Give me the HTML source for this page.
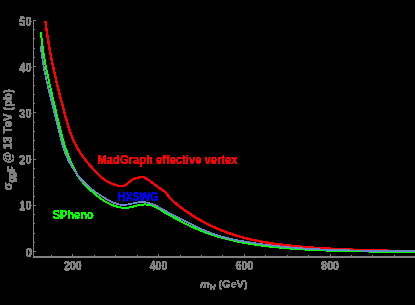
<!DOCTYPE html>
<html><head><meta charset="utf-8"><style>
html,body{margin:0;padding:0;background:#000;}
body{width:415px;height:305px;overflow:hidden;position:relative;}
svg{position:absolute;left:0;top:0;will-change:transform;}
text{font-family:"Liberation Sans",sans-serif;}
</style></head><body>
<svg width="415" height="305" viewBox="0 0 415 305">
<defs>
<filter id="crisp" x="-30%" y="-60%" width="160%" height="220%"><feComponentTransfer><feFuncA type="discrete" tableValues="0 1 1 1"/></feComponentTransfer></filter>
<filter id="crisp2" x="-30%" y="-60%" width="160%" height="220%"><feComponentTransfer><feFuncA type="discrete" tableValues="0 1 1 1"/></feComponentTransfer></filter>
</defs>
<rect width="415" height="305" fill="#000"/>
<g stroke="#808080" stroke-width="1" fill="none" shape-rendering="crispEdges">
<line x1="33.5" y1="20" x2="33.5" y2="257"/>
<line x1="33" y1="257" x2="415" y2="257" stroke-width="2"/>
<line x1="51.36" y1="257" x2="51.36" y2="255.2"/><line x1="72.80" y1="257" x2="72.80" y2="254.0"/><line x1="94.24" y1="257" x2="94.24" y2="255.2"/><line x1="115.68" y1="257" x2="115.68" y2="255.2"/><line x1="137.12" y1="257" x2="137.12" y2="255.2"/><line x1="158.57" y1="257" x2="158.57" y2="254.0"/><line x1="180.01" y1="257" x2="180.01" y2="255.2"/><line x1="201.45" y1="257" x2="201.45" y2="255.2"/><line x1="222.89" y1="257" x2="222.89" y2="255.2"/><line x1="244.33" y1="257" x2="244.33" y2="254.0"/><line x1="265.77" y1="257" x2="265.77" y2="255.2"/><line x1="287.22" y1="257" x2="287.22" y2="255.2"/><line x1="308.66" y1="257" x2="308.66" y2="255.2"/><line x1="330.10" y1="257" x2="330.10" y2="254.0"/><line x1="351.54" y1="257" x2="351.54" y2="255.2"/><line x1="372.98" y1="257" x2="372.98" y2="255.2"/><line x1="394.43" y1="257" x2="394.43" y2="255.2"/><line x1="33" y1="251.50" x2="36.0" y2="251.50"/><line x1="33" y1="242.26" x2="34.8" y2="242.26"/><line x1="33" y1="233.02" x2="34.8" y2="233.02"/><line x1="33" y1="223.78" x2="34.8" y2="223.78"/><line x1="33" y1="214.54" x2="34.8" y2="214.54"/><line x1="33" y1="205.30" x2="36.0" y2="205.30"/><line x1="33" y1="196.06" x2="34.8" y2="196.06"/><line x1="33" y1="186.82" x2="34.8" y2="186.82"/><line x1="33" y1="177.58" x2="34.8" y2="177.58"/><line x1="33" y1="168.34" x2="34.8" y2="168.34"/><line x1="33" y1="159.10" x2="36.0" y2="159.10"/><line x1="33" y1="149.86" x2="34.8" y2="149.86"/><line x1="33" y1="140.62" x2="34.8" y2="140.62"/><line x1="33" y1="131.38" x2="34.8" y2="131.38"/><line x1="33" y1="122.14" x2="34.8" y2="122.14"/><line x1="33" y1="112.90" x2="36.0" y2="112.90"/><line x1="33" y1="103.66" x2="34.8" y2="103.66"/><line x1="33" y1="94.42" x2="34.8" y2="94.42"/><line x1="33" y1="85.18" x2="34.8" y2="85.18"/><line x1="33" y1="75.94" x2="34.8" y2="75.94"/><line x1="33" y1="66.70" x2="36.0" y2="66.70"/><line x1="33" y1="57.46" x2="34.8" y2="57.46"/><line x1="33" y1="48.22" x2="34.8" y2="48.22"/><line x1="33" y1="38.98" x2="34.8" y2="38.98"/><line x1="33" y1="29.74" x2="34.8" y2="29.74"/><line x1="33" y1="20.50" x2="36.0" y2="20.50"/>
</g>
<g fill="#808080" stroke="#808080" stroke-width="0.3" font-size="12.5" font-weight="bold" text-anchor="end" filter="url(#crisp)">
<text x="31.5" y="25.5" textLength="12.2" lengthAdjust="spacingAndGlyphs">50</text>
<text x="31.5" y="71.7" textLength="12.2" lengthAdjust="spacingAndGlyphs">40</text>
<text x="31.5" y="117.9" textLength="12.2" lengthAdjust="spacingAndGlyphs">30</text>
<text x="31.5" y="164.1" textLength="12.2" lengthAdjust="spacingAndGlyphs">20</text>
<text x="31.5" y="210.3" textLength="12.2" lengthAdjust="spacingAndGlyphs">10</text>
<text x="32" y="257" textLength="6.6" lengthAdjust="spacingAndGlyphs">0</text>
</g>
<g fill="#808080" stroke="#808080" stroke-width="0.3" font-size="12.5" font-weight="bold" text-anchor="middle" filter="url(#crisp)">
<text x="72.8" y="270" textLength="17.5" lengthAdjust="spacingAndGlyphs">200</text>
<text x="158.5" y="270" textLength="17.5" lengthAdjust="spacingAndGlyphs">400</text>
<text x="244.3" y="270" textLength="17.5" lengthAdjust="spacingAndGlyphs">600</text>
<text x="330.1" y="270" textLength="17.5" lengthAdjust="spacingAndGlyphs">800</text>
</g>
<g filter="url(#crisp)"><text x="200" y="288" fill="#808080" stroke="#808080" stroke-width="0.2" font-size="11.5" font-weight="bold" textLength="47.5" lengthAdjust="spacingAndGlyphs"><tspan font-style="italic">m</tspan><tspan font-size="8.5" dy="2" font-style="italic">H</tspan><tspan dy="-2"> (GeV)</tspan></text></g>
<g filter="url(#crisp)"><text transform="translate(12.3,190.3) rotate(-90)" fill="#808080" stroke="#808080" stroke-width="0.3" font-size="12.5" font-weight="bold" textLength="101" lengthAdjust="spacingAndGlyphs">σ<tspan font-size="10" dy="2.5">ggF</tspan><tspan dy="-2.5"> @ 13 TeV (pb)</tspan></text></g>
<g fill="none" stroke-linejoin="round" stroke-linecap="butt" shape-rendering="crispEdges">
<path d="M45.49 21.00 L45.58 21.85 L45.68 22.70 L45.78 23.55 L45.88 24.40 L45.98 25.25 L46.08 26.10 L46.19 26.95 L46.30 27.80 L46.41 28.64 L46.52 29.49 L46.63 30.34 L46.75 31.18 L46.86 32.03 L46.98 32.87 L47.10 33.71 L47.23 34.55 L47.35 35.40 L47.47 36.24 L47.60 37.08 L47.73 37.92 L47.86 38.76 L47.99 39.60 L48.13 40.43 L48.26 41.27 L48.40 42.11 L48.54 42.95 L48.68 43.78 L48.82 44.62 L48.96 45.45 L49.11 46.29 L49.26 47.12 L49.40 47.96 L49.55 48.79 L49.70 49.62 L49.86 50.46 L50.01 51.29 L50.16 52.12 L50.32 52.95 L50.48 53.78 L50.64 54.61 L50.80 55.44 L50.96 56.27 L51.12 57.10 L51.29 57.93 L51.45 58.76 L51.62 59.59 L51.79 60.41 L51.96 61.24 L52.13 62.07 L52.30 62.90 L52.48 63.72 L52.65 64.55 L52.83 65.38 L53.00 66.20 L53.18 67.03 L53.36 67.85 L53.54 68.68 L53.72 69.50 L53.91 70.33 L54.09 71.15 L54.28 71.98 L54.46 72.80 L54.65 73.62 L54.84 74.45 L55.03 75.27 L55.22 76.10 L55.41 76.92 L55.60 77.74 L55.79 78.56 L55.98 79.39 L56.18 80.21 L56.37 81.03 L56.57 81.86 L56.77 82.68 L56.97 83.50 L57.17 84.32 L57.37 85.15 L57.57 85.97 L57.77 86.79 L57.97 87.61 L58.17 88.44 L58.38 89.26 L58.58 90.08 L58.79 90.90 L58.99 91.73 L59.20 92.55 L59.41 93.37 L59.61 94.19 L59.82 95.02 L60.03 95.84 L60.24 96.66 L60.45 97.49 L60.66 98.31 L60.88 99.13 L61.09 99.96 L61.30 100.78 L61.51 101.60 L61.73 102.43 L61.94 103.25 L62.16 104.08 L62.37 104.90 L62.59 105.72 L62.80 106.55 L63.02 107.37 L63.24 108.20 L63.46 109.02 L63.67 109.85 L63.89 110.68 L64.11 111.50 L64.33 112.33 L64.55 113.15 L64.77 113.98 L64.99 114.81 L65.22 115.63 L65.44 116.46 L65.67 117.28 L65.90 118.11 L66.13 118.93 L66.36 119.75 L66.59 120.57 L66.83 121.39 L67.07 122.21 L67.31 123.03 L67.56 123.85 L67.81 124.67 L68.06 125.48 L68.31 126.30 L68.57 127.11 L68.83 127.92 L69.09 128.73 L69.36 129.53 L69.64 130.34 L69.91 131.14 L70.19 131.94 L70.48 132.74 L70.77 133.54 L71.07 134.33 L71.37 135.12 L71.67 135.91 L71.98 136.70 L72.30 137.48 L72.62 138.26 L72.95 139.04 L73.28 139.82 L73.62 140.59 L73.97 141.36 L74.32 142.12 L74.68 142.88 L75.04 143.64 L75.42 144.40 L75.80 145.15 L76.18 145.90 L76.57 146.64 L76.98 147.38 L77.38 148.12 L77.80 148.85 L78.22 149.58 L78.66 150.30 L79.10 151.02 L79.55 151.73 L80.00 152.44 L80.46 153.15 L80.93 153.85 L81.41 154.55 L81.89 155.25 L82.38 155.94 L82.88 156.63 L83.38 157.31 L83.89 157.99 L84.41 158.67 L84.93 159.34 L85.45 160.01 L85.98 160.67 L86.52 161.33 L87.06 161.99 L87.60 162.65 L88.15 163.30 L88.70 163.95 L89.26 164.60 L89.82 165.24 L90.38 165.88 L90.95 166.52 L91.52 167.15 L92.09 167.78 L92.67 168.41 L93.25 169.04 L93.83 169.66 L94.41 170.28 L94.99 170.90 L95.58 171.52 L96.17 172.13 L96.76 172.74 L97.35 173.34 L97.95 173.94 L98.55 174.54 L99.16 175.12 L99.77 175.70 L100.39 176.27 L101.02 176.83 L101.65 177.38 L102.30 177.92 L102.95 178.44 L103.62 178.96 L104.30 179.46 L104.98 179.94 L105.68 180.41 L106.39 180.87 L107.12 181.31 L107.85 181.73 L108.59 182.14 L109.35 182.53 L110.11 182.90 L110.88 183.26 L111.66 183.60 L112.45 183.92 L113.25 184.22 L114.05 184.51 L114.87 184.78 L115.69 185.03 L116.51 185.26 L117.34 185.47 L118.18 185.67 L119.03 185.84 L119.87 185.99 L120.72 186.10 L121.56 186.16 L122.38 186.14 L123.18 186.03 L123.95 185.81 L124.69 185.48 L125.40 185.06 L126.09 184.59 L126.77 184.07 L127.44 183.52 L128.11 182.97 L128.77 182.41 L129.43 181.86 L130.10 181.32 L130.77 180.80 L131.46 180.31 L132.17 179.85 L132.89 179.44 L133.64 179.09 L134.42 178.79 L135.22 178.55 L136.04 178.33 L136.88 178.11 L137.72 177.88 L138.57 177.60 L139.42 177.30 L140.27 177.03 L141.09 176.85 L141.90 176.79 L142.68 176.89 L143.44 177.13 L144.19 177.45 L144.92 177.82 L145.65 178.21 L146.37 178.62 L147.08 179.04 L147.79 179.49 L148.50 179.94 L149.20 180.41 L149.90 180.90 L150.59 181.39 L151.28 181.89 L151.97 182.40 L152.65 182.91 L153.33 183.43 L154.02 183.96 L154.70 184.48 L155.38 185.00 L156.06 185.52 L156.75 186.04 L157.43 186.56 L158.12 187.07 L158.80 187.57 L159.49 188.06 L160.19 188.55 L160.88 189.02 L161.57 189.50 L162.25 189.99 L162.93 190.48 L163.58 190.99 L164.22 191.52 L164.84 192.07 L165.44 192.65 L166.03 193.25 L166.60 193.87 L167.16 194.50 L167.72 195.14 L168.27 195.78 L168.82 196.43 L169.38 197.07 L169.94 197.71 L170.51 198.34 L171.09 198.96 L171.68 199.57 L172.28 200.17 L172.89 200.76 L173.51 201.34 L174.14 201.91 L174.77 202.48 L175.41 203.04 L176.06 203.59 L176.72 204.13 L177.37 204.67 L178.04 205.21 L178.70 205.74 L179.37 206.26 L180.05 206.78 L180.72 207.30 L181.40 207.82 L182.08 208.33 L182.77 208.83 L183.45 209.34 L184.14 209.84 L184.83 210.33 L185.52 210.83 L186.22 211.32 L186.92 211.80 L187.62 212.28 L188.32 212.76 L189.03 213.24 L189.74 213.71 L190.45 214.18 L191.16 214.64 L191.87 215.10 L192.59 215.56 L193.31 216.01 L194.03 216.46 L194.75 216.91 L195.48 217.35 L196.21 217.79 L196.94 218.23 L197.67 218.66 L198.40 219.09 L199.14 219.51 L199.87 219.94 L200.61 220.35 L201.36 220.77 L202.10 221.18 L202.85 221.58 L203.59 221.99 L204.34 222.39 L205.09 222.78 L205.85 223.18 L206.60 223.56 L207.36 223.95 L208.12 224.33 L208.88 224.71 L209.64 225.08 L210.40 225.45 L211.17 225.82 L211.94 226.18 L212.70 226.54 L213.47 226.90 L214.25 227.25 L215.02 227.60 L215.80 227.94 L216.57 228.28 L217.35 228.62 L218.13 228.95 L218.91 229.28 L219.69 229.61 L220.48 229.93 L221.26 230.25 L222.05 230.56 L222.84 230.87 L223.63 231.18 L224.42 231.49 L225.21 231.79 L226.00 232.08 L226.80 232.37 L227.59 232.66 L228.39 232.95 L229.19 233.23 L229.99 233.51 L230.79 233.78 L231.59 234.05 L232.39 234.32 L233.19 234.58 L234.00 234.84 L234.80 235.09 L235.61 235.35 L236.42 235.59 L237.23 235.84 L238.04 236.08 L238.85 236.32 L239.66 236.55 L240.48 236.78 L241.29 237.01 L242.10 237.24 L242.92 237.46 L243.74 237.68 L244.55 237.89 L245.37 238.11 L246.19 238.31 L247.01 238.52 L247.83 238.72 L248.66 238.92 L249.48 239.12 L250.30 239.31 L251.13 239.50 L251.95 239.69 L252.78 239.88 L253.61 240.06 L254.44 240.24 L255.26 240.41 L256.09 240.59 L256.92 240.76 L257.75 240.93 L258.59 241.09 L259.42 241.26 L260.25 241.42 L261.08 241.57 L261.92 241.73 L262.75 241.88 L263.59 242.03 L264.42 242.18 L265.26 242.33 L266.10 242.47 L266.93 242.61 L267.77 242.75 L268.61 242.89 L269.45 243.02 L270.29 243.15 L271.13 243.28 L271.97 243.41 L272.81 243.53 L273.65 243.66 L274.50 243.78 L275.34 243.90 L276.18 244.01 L277.02 244.13 L277.87 244.24 L278.71 244.35 L279.56 244.46 L280.40 244.57 L281.25 244.67 L282.09 244.78 L282.94 244.88 L283.78 244.98 L284.63 245.08 L285.48 245.18 L286.32 245.27 L287.17 245.36 L288.02 245.46 L288.87 245.55 L289.71 245.64 L290.56 245.72 L291.41 245.81 L292.26 245.89 L293.11 245.98 L293.95 246.06 L294.80 246.14 L295.65 246.22 L296.50 246.30 L297.35 246.37 L298.20 246.45 L299.05 246.52 L299.90 246.60 L300.75 246.67 L301.60 246.74 L302.44 246.81 L303.29 246.88 L304.14 246.95 L304.99 247.01 L305.84 247.08 L306.69 247.15 L307.54 247.21 L308.39 247.27 L309.24 247.34 L310.08 247.40 L310.93 247.46 L311.78 247.52 L312.63 247.58 L313.48 247.64 L314.33 247.70 L315.17 247.76 L316.02 247.81 L316.87 247.87 L317.72 247.92 L318.56 247.98 L319.41 248.03 L320.26 248.09 L321.11 248.14 L321.95 248.19 L322.80 248.24 L323.65 248.29 L324.49 248.34 L325.34 248.39 L326.19 248.44 L327.03 248.49 L327.88 248.54 L328.73 248.59 L329.57 248.63 L330.42 248.68 L331.26 248.72 L332.11 248.77 L332.96 248.81 L333.80 248.86 L334.65 248.90 L335.49 248.94 L336.34 248.98 L337.19 249.03 L338.03 249.07 L338.88 249.11 L339.72 249.15 L340.57 249.19 L341.41 249.22 L342.26 249.26 L343.11 249.30 L343.95 249.34 L344.80 249.37 L345.64 249.41 L346.49 249.44 L347.33 249.48 L348.18 249.51 L349.02 249.55 L349.87 249.58 L350.71 249.62 L351.56 249.65 L352.41 249.68 L353.25 249.71 L354.10 249.74 L354.94 249.77 L355.79 249.81 L356.63 249.84 L357.48 249.87 L358.32 249.89 L359.17 249.92 L360.02 249.95 L360.86 249.98 L361.71 250.01 L362.55 250.04 L363.40 250.06 L364.24 250.09 L365.09 250.12 L365.94 250.14 L366.78 250.17 L367.63 250.19 L368.47 250.22 L369.32 250.24 L370.17 250.27 L371.01 250.29 L371.86 250.31 L372.71 250.34 L373.55 250.36 L374.40 250.38 L375.25 250.40 L376.09 250.43 L376.94 250.45 L377.79 250.47 L378.63 250.49 L379.48 250.51 L380.33 250.53 L381.18 250.55 L382.02 250.57 L382.87 250.59 L383.72 250.61 L384.57 250.63 L385.41 250.65 L386.26 250.67 L387.11 250.69 L387.96 250.71 L388.81 250.73 L389.65 250.75 L390.50 250.76 L391.35 250.78 L392.20 250.80 L393.05 250.82 L393.90 250.83 L394.75 250.85 L395.60 250.87 L396.45 250.89 L397.30 250.90 L398.15 250.92 L399.00 250.94 L399.85 250.95 L400.70 250.97 L401.55 250.98 L402.40 251.00 L403.25 251.02 L404.10 251.03 L404.95 251.05 L405.80 251.06 L406.66 251.08 L407.51 251.10 L408.36 251.11 L409.21 251.13 L410.06 251.14 L410.92 251.16 L411.77 251.17 L412.62 251.19 L413.48 251.20 L414.33 251.22 L415.18 251.23 L416.04 251.25" stroke="#ff0000" stroke-width="2.4"/>
<path d="M40.97 32.00 L41.04 32.85 L41.11 33.70 L41.18 34.55 L41.26 35.40 L41.34 36.24 L41.42 37.09 L41.51 37.94 L41.60 38.78 L41.69 39.63 L41.78 40.47 L41.88 41.31 L41.98 42.16 L42.08 43.00 L42.18 43.84 L42.29 44.68 L42.40 45.52 L42.51 46.36 L42.63 47.20 L42.74 48.04 L42.86 48.88 L42.99 49.72 L43.11 50.56 L43.24 51.40 L43.36 52.24 L43.49 53.07 L43.63 53.91 L43.76 54.75 L43.90 55.58 L44.04 56.42 L44.18 57.25 L44.32 58.09 L44.47 58.92 L44.61 59.76 L44.76 60.59 L44.91 61.43 L45.07 62.26 L45.22 63.09 L45.38 63.92 L45.53 64.76 L45.69 65.59 L45.85 66.42 L46.01 67.25 L46.18 68.08 L46.34 68.91 L46.51 69.74 L46.68 70.57 L46.85 71.40 L47.02 72.23 L47.19 73.06 L47.36 73.89 L47.54 74.72 L47.71 75.55 L47.89 76.38 L48.07 77.21 L48.25 78.04 L48.43 78.87 L48.61 79.70 L48.79 80.52 L48.98 81.35 L49.16 82.18 L49.34 83.01 L49.53 83.83 L49.72 84.66 L49.90 85.49 L50.09 86.32 L50.28 87.14 L50.47 87.97 L50.66 88.80 L50.85 89.62 L51.04 90.45 L51.23 91.28 L51.42 92.10 L51.61 92.93 L51.81 93.76 L52.00 94.58 L52.19 95.41 L52.39 96.23 L52.58 97.06 L52.77 97.89 L52.97 98.71 L53.16 99.54 L53.36 100.37 L53.55 101.19 L53.74 102.02 L53.94 102.85 L54.13 103.67 L54.33 104.50 L54.52 105.33 L54.71 106.15 L54.91 106.98 L55.10 107.81 L55.29 108.63 L55.49 109.46 L55.68 110.29 L55.87 111.12 L56.06 111.94 L56.25 112.77 L56.44 113.60 L56.63 114.43 L56.83 115.25 L57.02 116.08 L57.21 116.91 L57.40 117.73 L57.59 118.56 L57.79 119.39 L57.98 120.22 L58.17 121.04 L58.37 121.87 L58.57 122.69 L58.76 123.52 L58.96 124.34 L59.16 125.17 L59.36 125.99 L59.56 126.82 L59.77 127.64 L59.97 128.46 L60.18 129.28 L60.39 130.11 L60.60 130.93 L60.81 131.75 L61.02 132.57 L61.24 133.39 L61.46 134.20 L61.68 135.02 L61.90 135.84 L62.13 136.65 L62.35 137.47 L62.58 138.28 L62.82 139.10 L63.05 139.91 L63.29 140.72 L63.53 141.53 L63.78 142.34 L64.03 143.15 L64.28 143.95 L64.53 144.76 L64.79 145.57 L65.05 146.37 L65.32 147.17 L65.58 147.97 L65.86 148.77 L66.13 149.57 L66.41 150.37 L66.70 151.17 L66.99 151.96 L67.28 152.75 L67.57 153.55 L67.87 154.34 L68.18 155.13 L68.49 155.92 L68.80 156.70 L69.11 157.49 L69.43 158.28 L69.75 159.06 L70.08 159.84 L70.41 160.63 L70.74 161.41 L71.07 162.19 L71.41 162.97 L71.76 163.75 L72.10 164.53 L72.45 165.30 L72.80 166.08 L73.16 166.86 L73.52 167.63 L73.88 168.41 L74.25 169.18 L74.62 169.95 L74.99 170.71 L75.38 171.47 L75.77 172.23 L76.17 172.98 L76.58 173.72 L77.00 174.46 L77.43 175.19 L77.87 175.91 L78.33 176.61 L78.79 177.31 L79.27 178.00 L79.76 178.68 L80.26 179.36 L80.77 180.02 L81.29 180.67 L81.82 181.32 L82.36 181.96 L82.90 182.60 L83.46 183.22 L84.03 183.85 L84.60 184.46 L85.18 185.07 L85.77 185.67 L86.36 186.27 L86.96 186.87 L87.56 187.46 L88.18 188.05 L88.79 188.63 L89.41 189.21 L90.04 189.79 L90.67 190.37 L91.30 190.94 L91.94 191.51 L92.58 192.08 L93.22 192.64 L93.87 193.20 L94.52 193.76 L95.18 194.31 L95.84 194.86 L96.51 195.40 L97.18 195.93 L97.85 196.46 L98.53 196.98 L99.21 197.50 L99.90 198.01 L100.59 198.51 L101.29 199.00 L101.99 199.48 L102.70 199.96 L103.41 200.42 L104.13 200.87 L104.85 201.32 L105.58 201.75 L106.31 202.17 L107.05 202.59 L107.79 202.98 L108.54 203.37 L109.30 203.75 L110.06 204.11 L110.83 204.45 L111.60 204.79 L112.38 205.11 L113.16 205.41 L113.95 205.70 L114.75 205.98 L115.55 206.24 L116.36 206.48 L117.17 206.70 L117.99 206.91 L118.81 207.09 L119.64 207.26 L120.47 207.40 L121.30 207.53 L122.13 207.63 L122.97 207.71 L123.81 207.76 L124.65 207.79 L125.49 207.79 L126.33 207.77 L127.17 207.72 L128.01 207.64 L128.85 207.53 L129.69 207.40 L130.52 207.23 L131.36 207.05 L132.19 206.86 L133.03 206.65 L133.86 206.43 L134.70 206.20 L135.54 205.98 L136.37 205.76 L137.21 205.54 L138.05 205.34 L138.88 205.16 L139.72 204.99 L140.57 204.84 L141.41 204.72 L142.25 204.63 L143.10 204.56 L143.94 204.51 L144.78 204.49 L145.62 204.50 L146.45 204.54 L147.28 204.60 L148.11 204.69 L148.93 204.81 L149.75 204.95 L150.56 205.13 L151.36 205.33 L152.15 205.57 L152.94 205.83 L153.72 206.13 L154.49 206.45 L155.24 206.81 L155.99 207.19 L156.73 207.60 L157.47 208.02 L158.20 208.46 L158.92 208.91 L159.64 209.37 L160.37 209.83 L161.09 210.29 L161.81 210.75 L162.53 211.20 L163.25 211.66 L163.98 212.10 L164.71 212.54 L165.44 212.97 L166.18 213.39 L166.92 213.81 L167.66 214.22 L168.40 214.63 L169.14 215.04 L169.88 215.44 L170.63 215.84 L171.37 216.25 L172.11 216.65 L172.86 217.05 L173.60 217.46 L174.35 217.86 L175.09 218.26 L175.84 218.66 L176.58 219.06 L177.33 219.46 L178.08 219.86 L178.82 220.26 L179.57 220.65 L180.32 221.05 L181.07 221.44 L181.82 221.83 L182.57 222.22 L183.33 222.61 L184.08 223.00 L184.83 223.38 L185.59 223.76 L186.35 224.14 L187.10 224.52 L187.86 224.90 L188.62 225.27 L189.38 225.64 L190.15 226.00 L190.91 226.37 L191.68 226.73 L192.44 227.09 L193.21 227.44 L193.98 227.80 L194.76 228.14 L195.53 228.49 L196.30 228.83 L197.08 229.17 L197.86 229.50 L198.64 229.83 L199.42 230.16 L200.21 230.48 L200.99 230.80 L201.78 231.11 L202.57 231.42 L203.36 231.73 L204.16 232.03 L204.95 232.33 L205.75 232.62 L206.55 232.91 L207.35 233.20 L208.15 233.48 L208.95 233.76 L209.76 234.04 L210.56 234.31 L211.37 234.58 L212.18 234.84 L212.99 235.10 L213.80 235.36 L214.61 235.62 L215.42 235.87 L216.23 236.12 L217.05 236.36 L217.86 236.60 L218.68 236.84 L219.49 237.08 L220.31 237.31 L221.13 237.54 L221.94 237.77 L222.76 237.99 L223.58 238.21 L224.40 238.43 L225.22 238.65 L226.04 238.86 L226.86 239.07 L227.69 239.27 L228.51 239.48 L229.33 239.68 L230.16 239.88 L230.98 240.07 L231.81 240.26 L232.63 240.45 L233.46 240.64 L234.29 240.83 L235.11 241.01 L235.94 241.19 L236.77 241.36 L237.60 241.54 L238.43 241.71 L239.26 241.88 L240.09 242.05 L240.92 242.21 L241.75 242.37 L242.58 242.53 L243.42 242.69 L244.25 242.85 L245.08 243.00 L245.92 243.15 L246.75 243.30 L247.58 243.44 L248.42 243.59 L249.25 243.73 L250.09 243.87 L250.93 244.01 L251.76 244.14 L252.60 244.27 L253.44 244.40 L254.28 244.53 L255.11 244.66 L255.95 244.79 L256.79 244.91 L257.63 245.03 L258.47 245.15 L259.31 245.27 L260.15 245.38 L260.99 245.50 L261.83 245.61 L262.67 245.72 L263.51 245.83 L264.35 245.93 L265.19 246.04 L266.04 246.14 L266.88 246.24 L267.72 246.34 L268.56 246.44 L269.41 246.54 L270.25 246.64 L271.09 246.73 L271.94 246.82 L272.78 246.91 L273.62 247.00 L274.47 247.09 L275.31 247.18 L276.16 247.26 L277.00 247.35 L277.85 247.43 L278.69 247.51 L279.54 247.59 L280.38 247.67 L281.23 247.75 L282.07 247.82 L282.92 247.90 L283.76 247.97 L284.61 248.04 L285.45 248.12 L286.30 248.19 L287.14 248.26 L287.99 248.32 L288.84 248.39 L289.68 248.46 L290.53 248.52 L291.37 248.59 L292.22 248.65 L293.07 248.71 L293.91 248.78 L294.76 248.84 L295.61 248.90 L296.45 248.96 L297.30 249.01 L298.15 249.07 L298.99 249.13 L299.84 249.18 L300.68 249.24 L301.53 249.29 L302.38 249.35 L303.22 249.40 L304.07 249.45 L304.92 249.50 L305.76 249.55 L306.61 249.60 L307.46 249.64 L308.31 249.69 L309.15 249.74 L310.00 249.78 L310.85 249.83 L311.69 249.87 L312.54 249.92 L313.39 249.96 L314.23 250.00 L315.08 250.04 L315.93 250.08 L316.78 250.12 L317.62 250.16 L318.47 250.20 L319.32 250.24 L320.17 250.27 L321.01 250.31 L321.86 250.34 L322.71 250.38 L323.56 250.41 L324.40 250.45 L325.25 250.48 L326.10 250.51 L326.95 250.54 L327.79 250.57 L328.64 250.60 L329.49 250.63 L330.34 250.66 L331.18 250.69 L332.03 250.72 L332.88 250.75 L333.73 250.77 L334.57 250.80 L335.42 250.83 L336.27 250.85 L337.12 250.88 L337.97 250.90 L338.81 250.92 L339.66 250.95 L340.51 250.97 L341.36 250.99 L342.21 251.01 L343.05 251.03 L343.90 251.06 L344.75 251.08 L345.60 251.10 L346.45 251.12 L347.29 251.13 L348.14 251.15 L348.99 251.17 L349.84 251.19 L350.69 251.21 L351.54 251.22 L352.38 251.24 L353.23 251.26 L354.08 251.27 L354.93 251.29 L355.78 251.30 L356.62 251.32 L357.47 251.33 L358.32 251.35 L359.17 251.36 L360.02 251.38 L360.87 251.39 L361.71 251.40 L362.56 251.42 L363.41 251.43 L364.26 251.44 L365.11 251.45 L365.96 251.47 L366.80 251.48 L367.65 251.49 L368.50 251.50 L369.35 251.51 L370.20 251.52 L371.05 251.53 L371.89 251.54 L372.74 251.55 L373.59 251.56 L374.44 251.57 L375.29 251.58 L376.14 251.59 L376.98 251.60 L377.83 251.61 L378.68 251.62 L379.53 251.63 L380.38 251.64 L381.23 251.65 L382.07 251.66 L382.92 251.67 L383.77 251.67 L384.62 251.68 L385.47 251.69 L386.32 251.70 L387.16 251.71 L388.01 251.72 L388.86 251.73 L389.71 251.73 L390.56 251.74 L391.40 251.75 L392.25 251.76 L393.10 251.77 L393.95 251.78 L394.80 251.78 L395.65 251.79 L396.49 251.80 L397.34 251.81 L398.19 251.82 L399.04 251.83 L399.89 251.84 L400.73 251.85 L401.58 251.86 L402.43 251.86 L403.28 251.87 L404.13 251.88 L404.98 251.89 L405.82 251.90 L406.67 251.91 L407.52 251.92 L408.37 251.93 L409.22 251.94 L410.06 251.95 L410.91 251.97 L411.76 251.98 L412.61 251.99 L413.45 252.00 L414.30 252.01 L415.15 252.02 L416.00 252.03" stroke="#00ff00" stroke-width="2"/>
<path d="M40.79 46.00 L40.86 46.82 L40.94 47.64 L41.02 48.46 L41.11 49.28 L41.20 50.10 L41.29 50.92 L41.39 51.74 L41.49 52.55 L41.59 53.37 L41.70 54.19 L41.80 55.00 L41.92 55.82 L42.03 56.63 L42.15 57.45 L42.27 58.26 L42.39 59.08 L42.52 59.89 L42.65 60.70 L42.78 61.51 L42.92 62.32 L43.05 63.13 L43.19 63.95 L43.34 64.76 L43.48 65.57 L43.63 66.37 L43.78 67.18 L43.93 67.99 L44.08 68.80 L44.24 69.61 L44.40 70.41 L44.56 71.22 L44.72 72.03 L44.89 72.83 L45.05 73.64 L45.22 74.45 L45.39 75.25 L45.56 76.06 L45.74 76.86 L45.91 77.67 L46.09 78.47 L46.26 79.27 L46.44 80.08 L46.62 80.88 L46.81 81.68 L46.99 82.49 L47.18 83.29 L47.36 84.09 L47.55 84.89 L47.74 85.69 L47.93 86.50 L48.12 87.30 L48.31 88.10 L48.50 88.90 L48.69 89.70 L48.89 90.50 L49.08 91.30 L49.27 92.10 L49.47 92.90 L49.67 93.70 L49.86 94.50 L50.06 95.30 L50.26 96.10 L50.46 96.90 L50.65 97.70 L50.85 98.50 L51.05 99.30 L51.25 100.09 L51.45 100.89 L51.65 101.69 L51.84 102.49 L52.04 103.29 L52.24 104.09 L52.44 104.89 L52.64 105.69 L52.83 106.48 L53.03 107.28 L53.23 108.08 L53.42 108.88 L53.62 109.68 L53.82 110.48 L54.01 111.28 L54.20 112.07 L54.40 112.87 L54.59 113.67 L54.78 114.47 L54.98 115.27 L55.17 116.07 L55.36 116.86 L55.55 117.66 L55.74 118.46 L55.94 119.26 L56.13 120.06 L56.32 120.86 L56.51 121.65 L56.71 122.45 L56.90 123.25 L57.09 124.05 L57.29 124.85 L57.48 125.64 L57.68 126.44 L57.87 127.24 L58.07 128.04 L58.27 128.83 L58.47 129.63 L58.66 130.43 L58.86 131.23 L59.06 132.02 L59.27 132.82 L59.47 133.62 L59.67 134.41 L59.88 135.21 L60.09 136.01 L60.29 136.80 L60.50 137.60 L60.71 138.39 L60.93 139.19 L61.14 139.98 L61.36 140.78 L61.57 141.57 L61.79 142.37 L62.02 143.16 L62.24 143.95 L62.47 144.74 L62.71 145.53 L62.95 146.32 L63.19 147.11 L63.44 147.90 L63.69 148.68 L63.95 149.46 L64.22 150.24 L64.49 151.01 L64.77 151.79 L65.06 152.56 L65.35 153.33 L65.65 154.09 L65.96 154.85 L66.27 155.61 L66.59 156.37 L66.92 157.12 L67.25 157.87 L67.60 158.62 L67.94 159.36 L68.30 160.10 L68.66 160.84 L69.03 161.57 L69.40 162.30 L69.79 163.03 L70.18 163.75 L70.57 164.47 L70.97 165.18 L71.39 165.90 L71.80 166.60 L72.23 167.30 L72.66 168.00 L73.10 168.70 L73.54 169.39 L73.99 170.07 L74.45 170.75 L74.92 171.43 L75.39 172.10 L75.87 172.77 L76.36 173.43 L76.86 174.09 L77.36 174.74 L77.87 175.39 L78.38 176.03 L78.91 176.67 L79.44 177.30 L79.97 177.93 L80.52 178.55 L81.07 179.17 L81.62 179.78 L82.18 180.38 L82.75 180.98 L83.33 181.58 L83.90 182.16 L84.49 182.75 L85.08 183.32 L85.68 183.89 L86.28 184.46 L86.88 185.02 L87.49 185.57 L88.11 186.12 L88.73 186.66 L89.35 187.19 L89.98 187.72 L90.61 188.24 L91.25 188.76 L91.89 189.26 L92.54 189.76 L93.18 190.26 L93.84 190.75 L94.49 191.23 L95.15 191.71 L95.81 192.18 L96.48 192.65 L97.15 193.11 L97.82 193.57 L98.50 194.03 L99.18 194.48 L99.87 194.93 L100.56 195.37 L101.25 195.82 L101.94 196.26 L102.64 196.70 L103.34 197.14 L104.05 197.57 L104.76 198.01 L105.47 198.44 L106.19 198.87 L106.91 199.30 L107.63 199.72 L108.36 200.13 L109.09 200.54 L109.83 200.94 L110.57 201.32 L111.31 201.70 L112.06 202.05 L112.81 202.40 L113.57 202.72 L114.33 203.03 L115.10 203.31 L115.87 203.58 L116.64 203.82 L117.42 204.04 L118.20 204.24 L118.99 204.41 L119.78 204.56 L120.57 204.68 L121.37 204.77 L122.16 204.84 L122.96 204.88 L123.77 204.89 L124.57 204.87 L125.38 204.82 L126.19 204.75 L127.00 204.65 L127.81 204.53 L128.62 204.39 L129.43 204.23 L130.25 204.06 L131.06 203.88 L131.87 203.69 L132.69 203.50 L133.51 203.31 L134.32 203.12 L135.14 202.93 L135.96 202.76 L136.77 202.60 L137.59 202.45 L138.40 202.33 L139.22 202.22 L140.03 202.15 L140.85 202.10 L141.66 202.07 L142.48 202.08 L143.29 202.11 L144.09 202.17 L144.90 202.25 L145.71 202.36 L146.51 202.49 L147.30 202.64 L148.10 202.82 L148.89 203.01 L149.68 203.23 L150.46 203.47 L151.24 203.72 L152.01 204.00 L152.78 204.29 L153.54 204.60 L154.29 204.92 L155.04 205.26 L155.79 205.62 L156.53 205.99 L157.26 206.36 L157.99 206.75 L158.71 207.15 L159.44 207.55 L160.16 207.95 L160.88 208.36 L161.60 208.77 L162.31 209.18 L163.03 209.59 L163.75 210.00 L164.47 210.40 L165.19 210.80 L165.91 211.18 L166.63 211.57 L167.36 211.95 L168.08 212.33 L168.81 212.71 L169.54 213.08 L170.26 213.46 L170.99 213.84 L171.72 214.21 L172.45 214.59 L173.17 214.97 L173.90 215.35 L174.63 215.73 L175.36 216.11 L176.09 216.49 L176.82 216.88 L177.55 217.26 L178.28 217.64 L179.01 218.02 L179.74 218.40 L180.47 218.78 L181.20 219.16 L181.93 219.54 L182.66 219.92 L183.39 220.30 L184.13 220.68 L184.86 221.06 L185.60 221.43 L186.33 221.81 L187.07 222.18 L187.80 222.56 L188.54 222.93 L189.28 223.30 L190.01 223.67 L190.75 224.04 L191.49 224.40 L192.23 224.77 L192.97 225.13 L193.72 225.49 L194.46 225.85 L195.20 226.21 L195.95 226.56 L196.69 226.91 L197.44 227.26 L198.19 227.61 L198.93 227.95 L199.68 228.30 L200.43 228.64 L201.18 228.97 L201.94 229.31 L202.69 229.64 L203.44 229.97 L204.20 230.29 L204.96 230.61 L205.72 230.93 L206.47 231.25 L207.24 231.56 L208.00 231.86 L208.76 232.17 L209.52 232.47 L210.29 232.76 L211.06 233.06 L211.83 233.35 L212.60 233.63 L213.37 233.91 L214.14 234.18 L214.91 234.46 L215.69 234.72 L216.47 234.98 L217.24 235.24 L218.03 235.49 L218.81 235.74 L219.59 235.98 L220.38 236.22 L221.16 236.45 L221.95 236.68 L222.74 236.91 L223.53 237.13 L224.32 237.34 L225.12 237.55 L225.91 237.76 L226.71 237.96 L227.50 238.16 L228.30 238.35 L229.10 238.54 L229.90 238.73 L230.70 238.91 L231.51 239.09 L232.31 239.26 L233.12 239.44 L233.92 239.61 L234.73 239.77 L235.54 239.94 L236.34 240.10 L237.15 240.25 L237.96 240.41 L238.77 240.56 L239.58 240.71 L240.39 240.86 L241.21 241.01 L242.02 241.15 L242.83 241.29 L243.64 241.43 L244.46 241.57 L245.27 241.70 L246.09 241.84 L246.90 241.97 L247.71 242.10 L248.53 242.23 L249.34 242.36 L250.16 242.49 L250.97 242.61 L251.79 242.74 L252.60 242.86 L253.42 242.99 L254.23 243.11 L255.05 243.23 L255.86 243.35 L256.68 243.47 L257.50 243.59 L258.31 243.71 L259.13 243.82 L259.94 243.94 L260.76 244.05 L261.57 244.17 L262.39 244.28 L263.20 244.39 L264.02 244.50 L264.84 244.61 L265.65 244.71 L266.47 244.82 L267.28 244.93 L268.10 245.03 L268.92 245.13 L269.73 245.24 L270.55 245.34 L271.37 245.44 L272.18 245.54 L273.00 245.63 L273.82 245.73 L274.63 245.83 L275.45 245.92 L276.27 246.01 L277.09 246.11 L277.90 246.20 L278.72 246.29 L279.54 246.37 L280.35 246.46 L281.17 246.55 L281.99 246.63 L282.81 246.72 L283.63 246.80 L284.44 246.88 L285.26 246.96 L286.08 247.04 L286.90 247.12 L287.72 247.20 L288.54 247.28 L289.35 247.35 L290.17 247.43 L290.99 247.50 L291.81 247.57 L292.63 247.64 L293.45 247.71 L294.27 247.78 L295.09 247.85 L295.91 247.91 L296.73 247.98 L297.55 248.04 L298.37 248.10 L299.19 248.17 L300.01 248.23 L300.83 248.29 L301.65 248.35 L302.47 248.40 L303.29 248.46 L304.11 248.52 L304.93 248.57 L305.75 248.63 L306.57 248.68 L307.39 248.73 L308.21 248.78 L309.03 248.83 L309.85 248.88 L310.68 248.93 L311.50 248.98 L312.32 249.02 L313.14 249.07 L313.96 249.11 L314.78 249.16 L315.60 249.20 L316.42 249.24 L317.25 249.29 L318.07 249.33 L318.89 249.37 L319.71 249.41 L320.53 249.45 L321.36 249.48 L322.18 249.52 L323.00 249.56 L323.82 249.59 L324.64 249.63 L325.47 249.66 L326.29 249.69 L327.11 249.73 L327.93 249.76 L328.76 249.79 L329.58 249.82 L330.40 249.85 L331.22 249.88 L332.05 249.91 L332.87 249.94 L333.69 249.96 L334.52 249.99 L335.34 250.02 L336.16 250.04 L336.98 250.07 L337.81 250.09 L338.63 250.12 L339.45 250.14 L340.28 250.16 L341.10 250.19 L341.92 250.21 L342.75 250.23 L343.57 250.25 L344.39 250.27 L345.22 250.29 L346.04 250.31 L346.86 250.33 L347.69 250.35 L348.51 250.36 L349.33 250.38 L350.16 250.40 L350.98 250.42 L351.80 250.43 L352.63 250.45 L353.45 250.46 L354.27 250.48 L355.10 250.50 L355.92 250.51 L356.75 250.52 L357.57 250.54 L358.39 250.55 L359.22 250.57 L360.04 250.58 L360.86 250.59 L361.69 250.60 L362.51 250.62 L363.33 250.63 L364.16 250.64 L364.98 250.65 L365.81 250.66 L366.63 250.67 L367.45 250.68 L368.28 250.70 L369.10 250.71 L369.92 250.72 L370.75 250.73 L371.57 250.74 L372.39 250.75 L373.22 250.76 L374.04 250.77 L374.86 250.78 L375.69 250.78 L376.51 250.79 L377.33 250.80 L378.16 250.81 L378.98 250.82 L379.80 250.83 L380.63 250.84 L381.45 250.85 L382.27 250.86 L383.10 250.87 L383.92 250.88 L384.74 250.88 L385.57 250.89 L386.39 250.90 L387.21 250.91 L388.04 250.92 L388.86 250.93 L389.68 250.94 L390.51 250.95 L391.33 250.96 L392.15 250.97 L392.97 250.98 L393.80 250.99 L394.62 251.00 L395.44 251.01 L396.27 251.02 L397.09 251.03 L397.91 251.04 L398.73 251.05 L399.56 251.06 L400.38 251.07 L401.20 251.08 L402.02 251.09 L402.84 251.10 L403.67 251.11 L404.49 251.13 L405.31 251.14 L406.13 251.15 L406.96 251.16 L407.78 251.18 L408.60 251.19 L409.42 251.21 L410.24 251.22 L411.06 251.23 L411.89 251.25 L412.71 251.26 L413.53 251.28 L414.35 251.30 L415.17 251.31 L415.99 251.33" stroke="#6b88c8" stroke-width="1.8"/>
</g>
<g font-size="12" font-weight="bold" filter="url(#crisp2)">
<text x="97.5" y="164" fill="#ff0000" textLength="140" lengthAdjust="spacingAndGlyphs">MadGraph effective vertex</text>
<text x="117.3" y="201" fill="#0000ff" textLength="41.3" lengthAdjust="spacingAndGlyphs">HXSWG</text>
<text x="52.5" y="219" fill="#00ff00" textLength="41.2" lengthAdjust="spacingAndGlyphs">SPheno</text>
</g>
</svg>
</body></html>
